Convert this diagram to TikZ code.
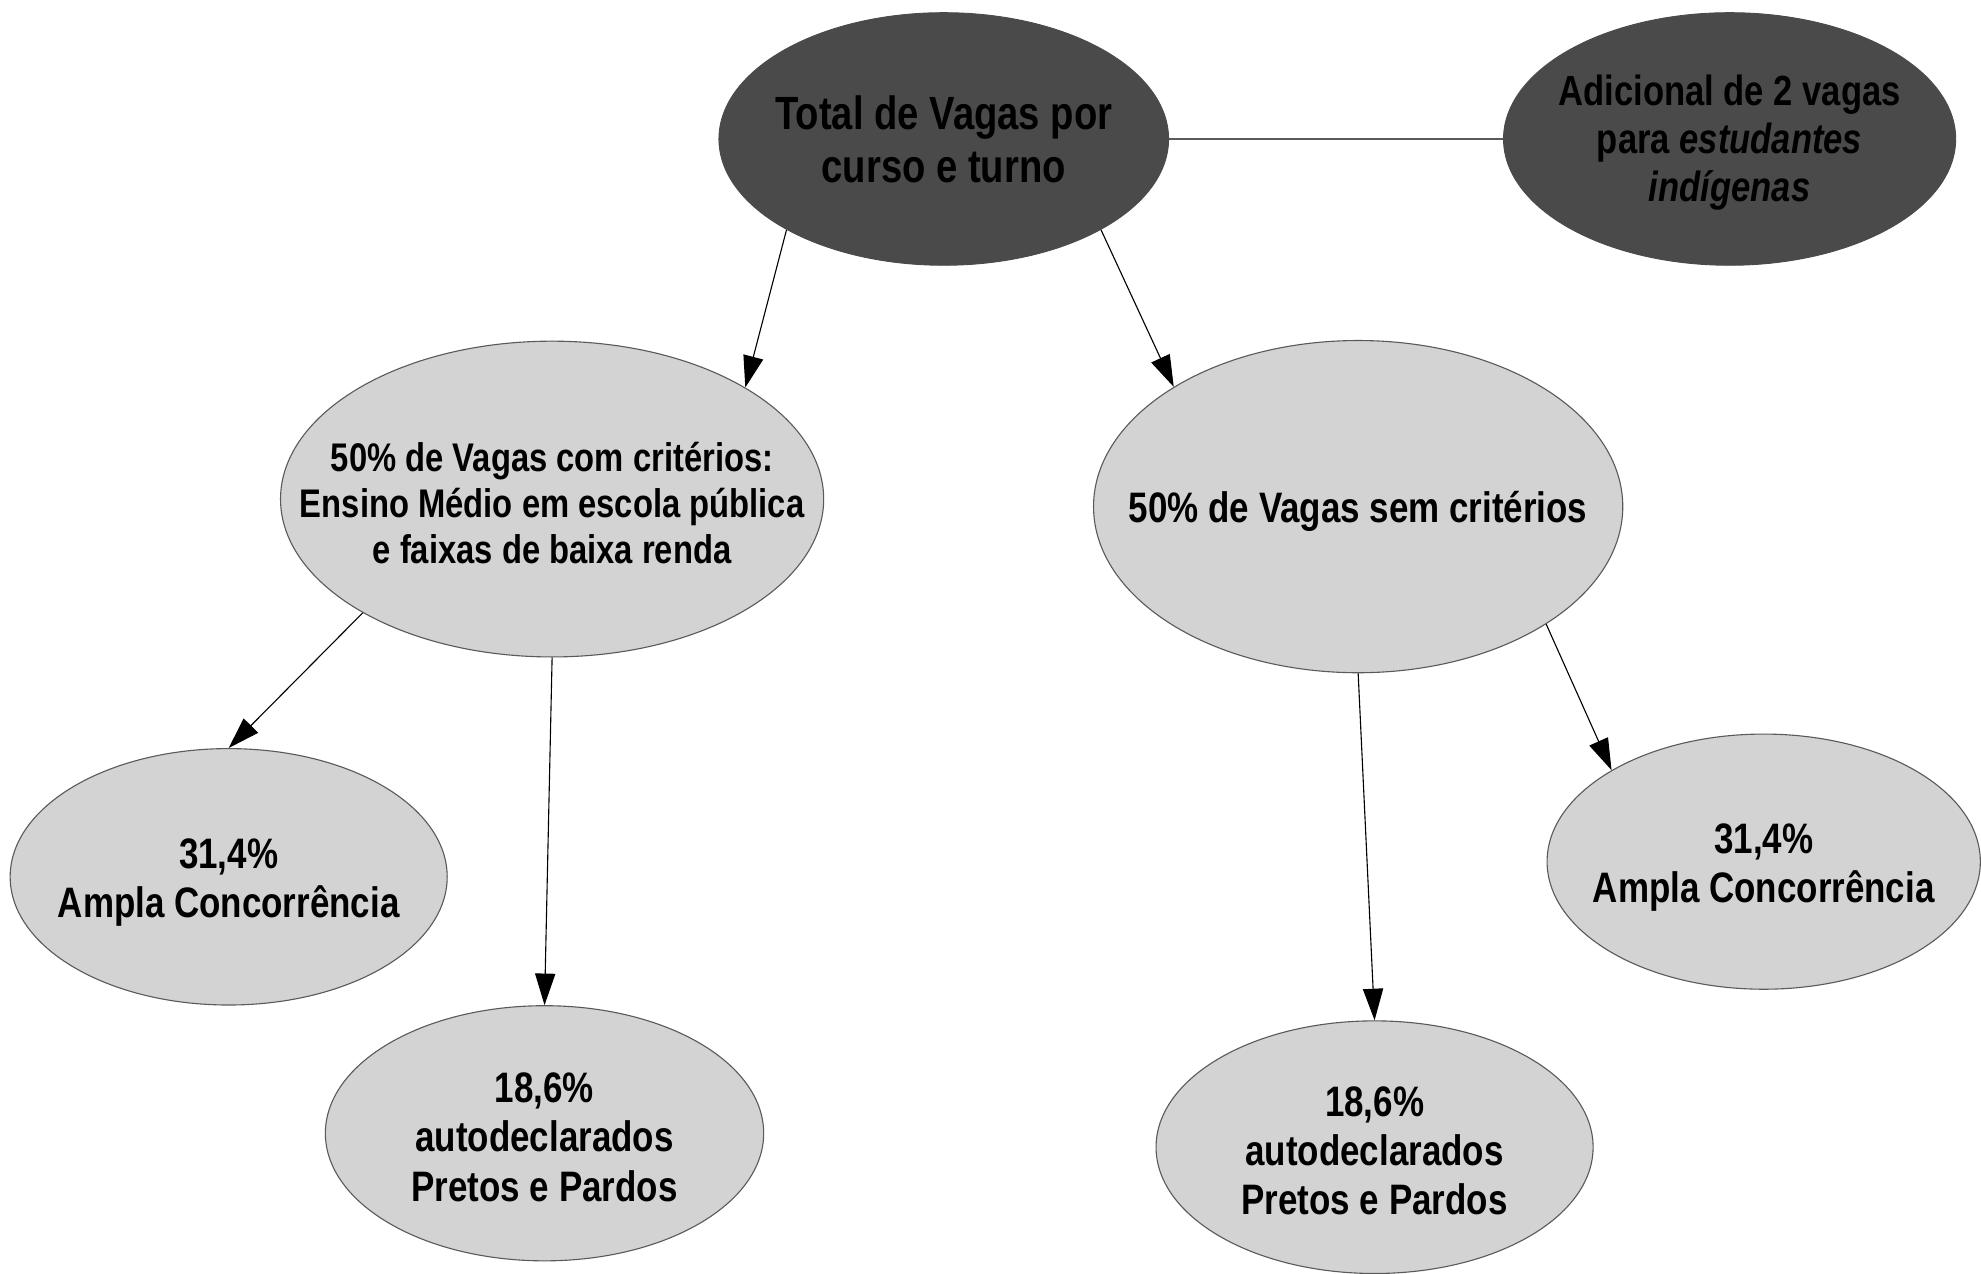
\documentclass[tikz,border=0pt]{standalone}
\usepackage{fontspec}
\setmainfont{Liberation Sans}[FakeStretch=0.82]
\usepackage{tikz}
\usetikzlibrary{arrows.meta, positioning, shapes.geometric}
\definecolor{mydark}{RGB}{74, 74, 74}
\definecolor{mylight}{RGB}{211, 211, 211}
\definecolor{myedge}{RGB}{90, 90, 90}

\begin{document}
\begin{tikzpicture}[x=0.02cm, y=-0.02cm,
    darkblob/.style={ellipse, fill=mydark, draw=mydark, inner sep=0pt},
    lightblob/.style={ellipse, fill=mylight, draw=myedge, line width=0.5pt, inner sep=0pt},
    txt/.style n args={2}{align=center, yshift=-0.06cm, font=\bfseries\fontsize{#1}{#2}\selectfont},
    arr/.style={-{Triangle[length=0.5cm, width=0.32cm]}, line width=0.5pt}]
    \useasboundingbox (0,0) rectangle (1568,1008);

    % topo
    \node[darkblob, minimum width=7.12cm, minimum height=4cm,
        label={[txt={21}{24}, yshift=0.06cm]center:Total de Vagas por\\curso e turno}] (total) at (747,110) {};
    \node[darkblob, minimum width=7.16cm, minimum height=4cm,
        label={[txt={19}{21.6}]center:Adicional de 2 vagas\\para \textit{estudantes}\\\textit{indígenas}}] (indig) at (1369,110) {};
    \draw[myedge, line width=0.5pt] (total.east) -- (indig.west);

    % 50% + 50%
    \node[lightblob, minimum width=8.6cm, minimum height=5cm,
        label={[txt={18}{20.8}]center:50\% de Vagas com critérios:\\Ensino Médio em escola pública\\e faixas de baixa renda}] (com) at (437,395) {};
    \node[lightblob, minimum width=8.38cm, minimum height=5.26cm,
        label={[txt={19.2}{22}, yshift=-0.02cm]center:50\% de Vagas sem critérios}] (sem) at (1075,401) {};
    \draw[arr] (total.210) -- (com.30);
    \draw[arr] (total.330) -- (sem.147);

    % com critérios
    \node[lightblob, minimum width=6.92cm, minimum height=4.06cm,
        label={[txt={19.2}{22.2}, yshift=-0.03cm]center:31,4\%\\Ampla Concorrência}] (ampla1) at (181,694) {};
    \node[lightblob, minimum width=6.94cm, minimum height=4.04cm,
        label={[txt={19.2}{22.2}]center:18,6\%\\autodeclarados\\Pretos e Pardos}] (ppp1) at (431,897) {};
    \draw[arr] (com.211) -- (ampla1.90);
    \draw[arr] (com.270) -- (ppp1.90);

    % sem critérios
    \node[lightblob, minimum width=6.92cm, minimum height=4cm,
        label={[txt={19.2}{22.2}]center:18,6\%\\autodeclarados\\Pretos e Pardos}] (ppp2) at (1088,908) {};
    \node[lightblob, minimum width=6.86cm, minimum height=4.04cm,
        label={[txt={19.2}{22.2}, yshift=-0.03cm]center:31,4\%\\Ampla Concorrência}] (ampla2) at (1396,682) {};
    \draw[arr] (sem.270) -- (ppp2.90);
    \draw[arr] (sem.328) -- (ampla2.149);
\end{tikzpicture}
\end{document}
